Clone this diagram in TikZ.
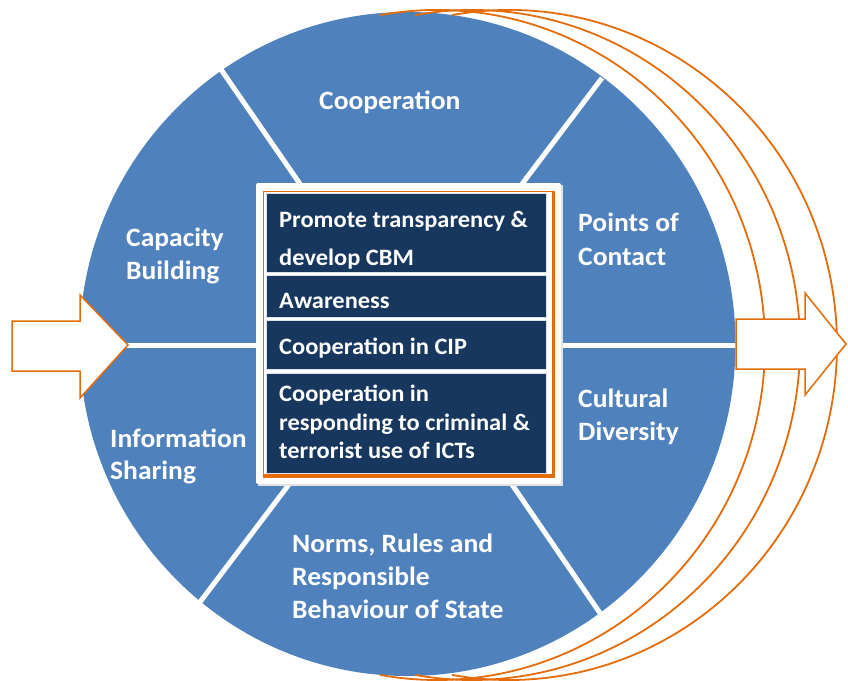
\documentclass[tikz,border=0pt]{standalone}
\usepackage{fontspec}
\setmainfont{Carlito}
\newfontfamily\lblfont[FakeStretch=1.04]{Carlito}
\definecolor{cblue}{HTML}{4F81BD}
\definecolor{cnavy}{HTML}{17375E}
\definecolor{corange}{HTML}{E46C0A}
\tikzset{
  outerlbl/.style={anchor=base west, inner sep=0pt, text=white, font=\lblfont\bfseries\fontsize{26.5}{30}\selectfont},
  celllbl/.style={anchor=base west, inner sep=0pt, text=white, font=\lblfont\bfseries\fontsize{23.5}{26}\selectfont},
  spoke/.style={white, line width=5pt},
  orarc/.style={corange, line width=1.8pt},
  bigarrow/.style={fill=white, draw=corange, line width=1.5pt, line join=miter},
  cellbox/.style={fill=cnavy, draw=white!85!cnavy, line width=0.8pt}
}
\begin{document}
\begin{tikzpicture}[x=1pt,y=-1pt]
\useasboundingbox (0,0) rectangle (848,680);
% main disc
\fill[cblue] (407.5,344) ellipse [x radius=328pt, y radius=332pt];
% orange arcs
\foreach \d in {29,64,101}{
  \draw[orarc, shift={(408+\d,345)}] (100:328pt and 335pt) arc[start angle=100, end angle=-100, x radius=328pt, y radius=335pt];
}
% dividing lines
\coordinate (hl) at (80,345);
\coordinate (hr) at (736,345);
\draw[spoke] (hl) -- (hr);
\coordinate (tlo) at (220,68);  \coordinate (tli) at (300,184);
\coordinate (tro) at (602,78);  \coordinate (tri) at (522,184);
\coordinate (blo) at (197,606); \coordinate (bli) at (290,483);
\coordinate (bro) at (602,616); \coordinate (bri) at (511,483);
\draw[spoke] (tlo) -- (tli);
\draw[spoke] (tro) -- (tri);
\draw[spoke] (blo) -- (bli);
\draw[spoke] (bro) -- (bri);
% arrows
\draw[bigarrow] (12,321) -- (80,321) -- (80,295) -- (128,345) -- (80,398) -- (80,371) -- (12,371) -- cycle;
\draw[bigarrow] (736,319) -- (805,319) -- (805,293) -- (846,344) -- (805,395) -- (805,369) -- (736,369) -- cycle;
% central box
\fill[black!12] (258,185) rectangle (563,486);
\fill[white, rounded corners=2pt] (256,183) rectangle (561,484);
\draw[corange, line width=1.5pt] (263.5,191.5) rectangle (553,475);
\draw[corange, line width=3pt] (553.5,191) -- (553.5,476.5) -- (263,476.5);
\draw[cellbox] (266,193) rectangle (546,272);
\draw[cellbox] (266,275) rectangle (546,317);
\draw[cellbox] (266,320) rectangle (546,369);
\draw[cellbox] (266,373) rectangle (546,473);
% cell texts
\node[celllbl] (c1a) at (279,227) {Promote transparency \&};
\node[celllbl] (c1b) at (279,265) {develop CBM};
\node[celllbl] (c2) at (279,308) {Awareness};
\node[celllbl] (c3) at (279,354) {Cooperation in CIP};
\node[celllbl] (c4a) at (279,401) {Cooperation in};
\node[celllbl] (c4b) at (279,430) {responding to criminal \&};
\node[celllbl] (c4c) at (279,458) {terrorist use of ICTs};
% outer labels
\node[outerlbl] (coop) at (319,109) {Cooperation};
\node[outerlbl] (cap1) at (126,246) {Capacity};
\node[outerlbl] (cap2) at (126,279) {Building};
\node[outerlbl] (poc1) at (578,231) {Points of};
\node[outerlbl] (poc2) at (578,265) {Contact};
\node[outerlbl] (cul1) at (578,407) {Cultural};
\node[outerlbl] (cul2) at (578,440) {Diversity};
\node[outerlbl] (inf1) at (110,447) {Information};
\node[outerlbl] (inf2) at (110,479) {Sharing};
\node[outerlbl] (nrm1) at (292,552) {Norms, Rules and};
\node[outerlbl] (nrm2) at (292,585) {Responsible};
\node[outerlbl] (nrm3) at (292,618) {Behaviour of State};
\end{tikzpicture}
\end{document}
